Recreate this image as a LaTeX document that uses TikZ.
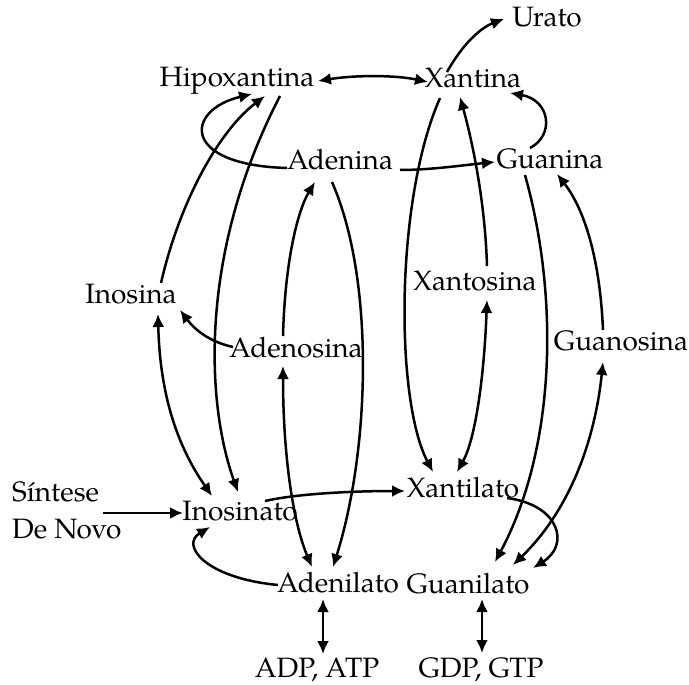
\documentclass[tikz,border=0pt]{standalone}
\usepackage{fontspec}
\setmainfont{TeX Gyre Pagella}
\usetikzlibrary{arrows.meta}
\begin{document}
\begin{tikzpicture}[x=1pt,y=-1pt,
  lbl/.style={inner sep=0pt, anchor=base, font=\fontsize{28}{32}\selectfont},
  conn/.style={line width=2.5pt, -{Latex[length=13pt,width=12pt]}},
  dconn/.style={line width=2.5pt, {Latex[length=13pt,width=12pt]}-{Latex[length=13pt,width=12pt]}}]
\useasboundingbox (0,0) rectangle (689,685);
\node[lbl] (urato) at (547,27) {Urato};
\node[lbl] (hipo) at (237,87) {Hipoxantina};
\node[lbl] (xantina) at (473,88) {Xantina};
\node[lbl] (adenina) at (340,169) {Adenina};
\node[lbl] (guanina) at (550,168) {Guanina};
\node[lbl] (inosina) at (131,303) {Inosina};
\node[lbl] (xantosina) at (475,290) {Xantosina};
\node[lbl] (adenosina) at (296,357) {Adenosina};
\node[lbl] (guanosina) at (621,350) {Guanosina};
\node[lbl, anchor=west, align=left, font=\fontsize{28}{37}\selectfont] (sdn) at (12,510) {Síntese\\De Novo};
\node[lbl] (inosinato) at (240,520) {Inosinato};
\node[lbl] (xantilato) at (463,497) {Xantilato};
\node[lbl] (adenilato) at (338,592) {Adenilato};
\node[lbl] (guanilato) at (468,593) {Guanilato};
\node[lbl] (adp) at (317,677) {ADP, ATP};
\node[lbl] (gdp) at (481,677) {GDP, GTP};

\draw[dconn] ([shift={(81,-6)}]hipo.base) .. controls (355,75) and (395,75) .. ([shift={(-45,-6)}]xantina.base);
\draw[conn] ([shift={(-26,-16)}]xantina.base) .. controls (462,45) and (480,28) .. ([shift={(-43,-8)}]urato.base);
\draw[conn] ([shift={(-53,-1)}]adenina.base) .. controls (180,165) and (185,110) .. ([shift={(15,7)}]hipo.base);
\draw[conn] ([shift={(30,-20)}]inosina.base) .. controls (180,200) and (220,130) .. ([shift={(28,9)}]hipo.base);
\draw[conn] ([shift={(43,9)}]hipo.base) .. controls (200,250) and (205,400) .. ([shift={(-2,-28)}]inosinato.base);
\draw[dconn] ([shift={(27,11)}]inosina.base) .. controls (160,400) and (180,450) .. ([shift={(-28,-24)}]inosinato.base);
\draw[conn] ([shift={(-63,-10)}]adenosina.base) .. controls (210,342) and (195,330) .. ([shift={(49,7)}]inosina.base);
\draw[dconn] ([shift={(-13,9)}]adenosina.base) .. controls (283,450) and (292,520) .. ([shift={(-26,-25)}]adenilato.base);
\draw[conn] ([shift={(-8,13)}]adenina.base) .. controls (375,280) and (370,450) .. ([shift={(-5,-25)}]adenilato.base);
\draw[conn] ([shift={(-13,-21)}]adenosina.base) .. controls (285,260) and (298,210) .. ([shift={(-25,13)}]adenina.base);
\draw[conn] ([shift={(-60,-7)}]adenilato.base) .. controls (205,578) and (180,545) .. ([shift={(-30,7)}]inosinato.base);
\draw[conn] ([shift={(91,3)}]sdn.west) -- ([shift={(-57,-7)}]inosinato.base);
\draw[conn] ([shift={(25,-19)}]inosinato.base) .. controls (300,493) and (360,491) .. ([shift={(-58,-6)}]xantilato.base);
\draw[conn] ([shift={(-33,10)}]xantina.base) .. controls (395,200) and (395,400) .. ([shift={(-30,-25)}]xantilato.base);
\draw[conn] ([shift={(12,-24)}]xantosina.base) .. controls (485,200) and (472,140) .. ([shift={(-13,9)}]xantina.base);
\draw[dconn] ([shift={(12,10)}]xantosina.base) .. controls (484,380) and (475,440) .. ([shift={(-6,-25)}]xantilato.base);
\draw[conn] ([shift={(-20,-20)}]guanina.base) .. controls (555,135) and (550,100) .. ([shift={(37,5)}]xantina.base);
\draw[conn] ([shift={(60,1)}]adenina.base) .. controls (430,170) and (465,165) .. ([shift={(-55,-6)}]guanina.base);
\draw[conn] ([shift={(-25,7)}]guanina.base) .. controls (560,300) and (555,450) .. ([shift={(27,-31)}]guanilato.base);
\draw[conn] ([shift={(-18,-20)}]guanosina.base) .. controls (600,260) and (585,210) .. ([shift={(7,6)}]guanina.base);
\draw[dconn] ([shift={(-18,12)}]guanosina.base) .. controls (595,440) and (570,510) .. ([shift={(45,-28)}]guanilato.base);
\draw[conn] ([shift={(44,1)}]xantilato.base) .. controls (560,505) and (570,545) .. ([shift={(65,-25)}]guanilato.base);
\draw[dconn] ([shift={(-15,7)}]adenilato.base) -- ([shift={(6,-23)}]adp.base);
\draw[dconn] ([shift={(14,6)}]guanilato.base) -- ([shift={(1,-24)}]gdp.base);
\end{tikzpicture}
\end{document}
